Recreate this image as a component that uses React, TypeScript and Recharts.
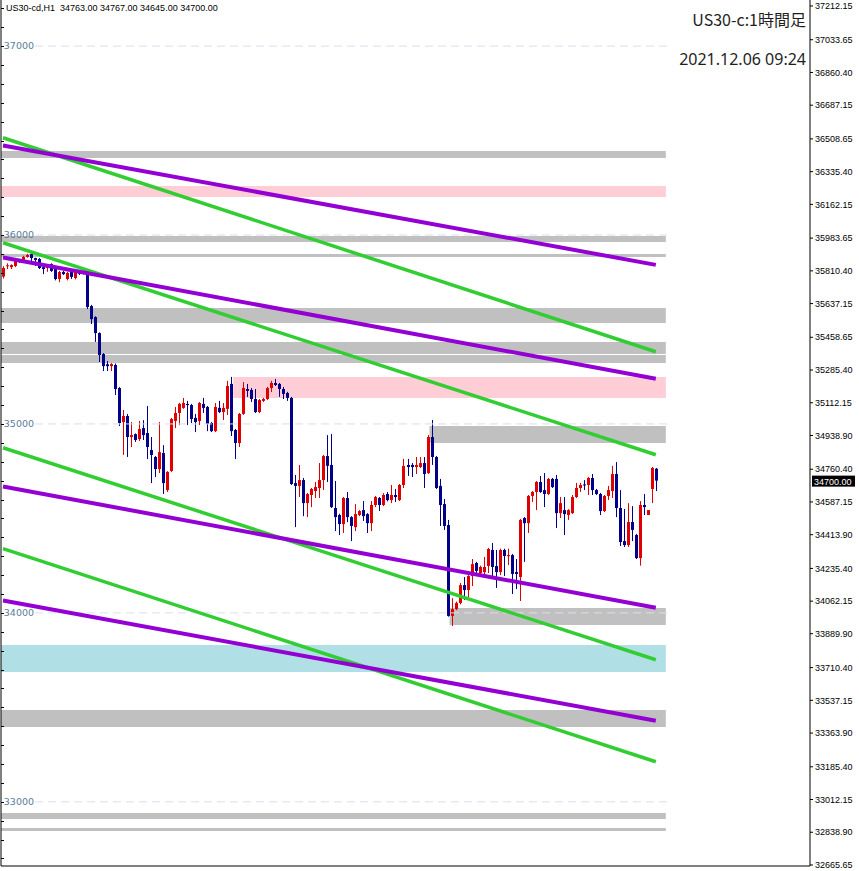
import React from 'react';
import {
  ComposedChart,
  Bar,
  XAxis,
  YAxis,
  ReferenceArea,
  ReferenceLine,
} from 'recharts';

// US30 H1 candles
const opens = [
  35780, 35835, 35830, 35836, 35857, 35862, 35884, 35899, 35878, 35873,
  35830, 35825, 35846, 35820, 35767, 35804, 35767, 35804, 35772, 35804,
  35795, 35804, 35624, 35566, 35481, 35370, 35316, 35306, 35312, 35190,
  35010, 35042, 34931, 34946, 34920, 34978, 34952, 34862, 34825, 34761,
  34846, 34650, 34751, 35016, 35058, 35085, 35106, 35100, 35032, 35016,
  35106, 35090, 35005, 34962, 35085, 35063, 35080, 35212, 34968, 34899,
  35053, 35185, 35180, 35132, 35063, 35122, 35132, 35190, 35217, 35212,
  35185, 35164, 35138, 34687, 34672, 34703, 34581, 34624, 34645, 34661,
  34703, 34830, 34783, 34555, 34518, 34470, 34608, 34507, 34454, 34518,
  34544, 34523, 34475, 34571, 34608, 34571, 34629, 34597, 34624, 34597,
  34677, 34783, 34783, 34772, 34772, 34793, 34740, 34931, 34825, 34672,
  34576, 34465, 33984, 34020, 34052, 34147, 34121, 34195, 34264, 34211,
  34216, 34248, 34333, 34248, 34216, 34333, 34300, 34306, 34216, 34190,
  34502, 34475, 34619, 34640, 34693, 34650, 34629, 34709, 34709, 34528,
  34544, 34518, 34528, 34613, 34661, 34680, 34677, 34714, 34650, 34629,
  34539, 34619, 34645, 34735, 34555, 34380, 34359, 34481, 34412, 34290,
  34571, 34518, 34656, 34763,
];
const highs = [
  35835, 35850, 35845, 35878, 35872, 35890, 35900, 35905, 35880, 35878,
  35835, 35845, 35850, 35825, 35810, 35810, 35805, 35810, 35808, 35812,
  35815, 35815, 35630, 35570, 35485, 35375, 35333, 35322, 35320, 35195,
  35074, 35053, 35010, 34950, 35016, 35020, 35095, 34931, 34830, 35010,
  34888, 34750, 35032, 35090, 35112, 35138, 35122, 35106, 35053, 35116,
  35138, 35095, 35010, 35111, 35122, 35111, 35228, 35249, 34973, 35058,
  35222, 35212, 35190, 35185, 35132, 35138, 35196, 35228, 35238, 35217,
  35196, 35170, 35143, 34730, 34783, 34714, 34635, 34661, 34693, 34793,
  34836, 34941, 34947, 34698, 34525, 34613, 34640, 34512, 34576, 34544,
  34592, 34528, 34592, 34619, 34613, 34634, 34640, 34677, 34656, 34682,
  34815, 34815, 34793, 34825, 34825, 34825, 34941, 35021, 34830, 34709,
  34603, 34492, 34078, 34060, 34158, 34190, 34200, 34285, 34270, 34250,
  34296, 34344, 34370, 34333, 34340, 34340, 34340, 34312, 34285, 34497,
  34507, 34624, 34645, 34698, 34725, 34740, 34714, 34714, 34730, 34613,
  34613, 34549, 34624, 34688, 34688, 34703, 34719, 34735, 34656, 34635,
  34624, 34672, 34778, 34798, 34650, 34550, 34581, 34565, 34418, 34592,
  34629, 34544, 34772, 34767,
];
const lows = [
  35770, 35820, 35820, 35830, 35852, 35858, 35880, 35857, 35836, 35820,
  35793, 35805, 35805, 35760, 35750, 35788, 35760, 35767, 35765, 35788,
  35790, 35608, 35529, 35434, 35328, 35280, 35280, 35280, 35153, 34989,
  34836, 34825, 34878, 34905, 34910, 34915, 34814, 34687, 34719, 34740,
  34629, 34640, 34745, 34978, 34994, 35080, 34994, 35005, 34957, 34994,
  35058, 34962, 34957, 34957, 35058, 35021, 35047, 34936, 34814, 34878,
  35048, 35143, 35116, 35058, 35058, 35116, 35127, 35169, 35201, 35143,
  35132, 35122, 34677, 34454, 34613, 34512, 34507, 34560, 34608, 34608,
  34650, 34693, 34555, 34433, 34412, 34423, 34480, 34380, 34433, 34512,
  34486, 34423, 34433, 34560, 34539, 34565, 34590, 34581, 34587, 34592,
  34661, 34725, 34719, 34735, 34767, 34661, 34735, 34783, 34656, 34460,
  34439, 33980, 33930, 34015, 34045, 34068, 34084, 34142, 34200, 34205,
  34195, 34211, 34190, 34132, 34200, 34195, 34253, 34100, 34126, 34063,
  34270, 34423, 34587, 34544, 34635, 34560, 34624, 34661, 34449, 34502,
  34412, 34492, 34523, 34608, 34640, 34650, 34624, 34624, 34624, 34518,
  34534, 34597, 34608, 34507, 34354, 34349, 34349, 34380, 34285, 34250,
  34518, 34518, 34581, 34645,
];
const closes = [
  35825, 35840, 35841, 35873, 35868, 35884, 35894, 35878, 35868, 35825,
  35820, 35841, 35810, 35767, 35804, 35793, 35799, 35778, 35804, 35795,
  35810, 35619, 35555, 35481, 35365, 35306, 35306, 35317, 35185, 35005,
  35042, 34931, 34941, 34915, 34973, 34941, 34878, 34836, 34761, 34851,
  34687, 34746, 35026, 35058, 35106, 35111, 35100, 35026, 35010, 35111,
  35085, 35000, 34962, 35090, 35063, 35085, 35201, 34962, 34899, 35053,
  35190, 35175, 35132, 35063, 35127, 35132, 35190, 35217, 35206, 35185,
  35159, 35138, 34682, 34672, 34703, 34581, 34629, 34656, 34666, 34703,
  34830, 34778, 34560, 34507, 34470, 34608, 34507, 34460, 34523, 34539,
  34512, 34475, 34571, 34613, 34571, 34624, 34597, 34624, 34613, 34677,
  34778, 34772, 34772, 34783, 34793, 34735, 34931, 34825, 34661, 34571,
  34460, 33984, 34020, 34052, 34147, 34121, 34195, 34258, 34222, 34243,
  34243, 34338, 34243, 34216, 34333, 34301, 34306, 34206, 34206, 34492,
  34475, 34619, 34640, 34693, 34640, 34629, 34709, 34666, 34528, 34581,
  34523, 34544, 34613, 34661, 34677, 34675, 34714, 34650, 34629, 34539,
  34619, 34650, 34735, 34555, 34375, 34359, 34481, 34439, 34290, 34571,
  34560, 34544, 34767, 34700,
];

// right price scale labels
const priceTicks = [
  37212.15, 37033.65, 36860.4, 36687.15, 36508.65, 36335.4, 36162.15,
  35983.65, 35810.4, 35637.15, 35458.65, 35285.4, 35112.15, 34938.9,
  34760.4, 34587.15, 34413.9, 34235.4, 34062.15, 33889.9, 33710.4,
  33537.15, 33363.9, 33185.4, 33012.15, 32838.9, 32665.65,
];
const roundLevels = [37000, 36000, 35000, 34000, 33000];

// zones: [low, high, first bar index or null for full width]
const grayZones: [number, number, number | null][] = [
  [36408, 36445, null],
  [35963, 35995, null],
  [35884, 35899, null],
  [35534, 35614, null],
  [35370, 35434, null],
  [35323, 35365, null],
  [34899, 34989, 107],
  [33936, 34026, 112],
  [33396, 33486, null],
  [32909, 32941, null],
  [32845, 32861, null],
];
const pinkZones: [number, number, number | null][] = [
  [36201, 36259, null],
  [35137, 35248, 58],
];
const blueZones: [number, number, number | null][] = [[33687, 33830, null]];

// trend lines: price at first bar, price at last bar
const purpleLines: [number, number][] = [
  [36474, 35842],
  [35881, 35239],
  [34669, 34027],
  [34066, 33429],
];
const greenLines: [number, number][] = [
  [36515, 35382],
  [35959, 34837],
  [34874, 33752],
  [34340, 33212],
];

const SLOTS = 202;
const ZONE_END = 165;
const DOMAIN: [number, number] = [32660.3, 37243.9];
const UP = '#e00000';
const DOWN = '#00008b';
const last = opens.length - 1;

const rows = Array.from({ length: SLOTS }, (_, i) =>
  i < opens.length
    ? { i, range: [lows[i], highs[i]], o: opens[i], h: highs[i], l: lows[i], c: closes[i] }
    : { i, range: null }
);

const leftTicks: number[] = [];
for (let v = 32700; v <= 37200; v += 100) leftTicks.push(v);

const Candle = (props: any) => {
  const { x, y, width, height, payload } = props;
  if (!payload || payload.o == null || x == null) return <g />;
  const { o, h, l, c } = payload;
  const top = Math.min(y, y + height);
  const span = Math.abs(height);
  const py = (v: number) => (h === l ? top : top + ((h - v) / (h - l)) * span);
  const cx = Math.round(x + width / 2);
  const color = c >= o ? UP : DOWN;
  const bTop = py(Math.max(o, c));
  const bBot = py(Math.min(o, c));
  return (
    <g>
      <line x1={cx + 0.5} x2={cx + 0.5} y1={top} y2={top + span} stroke={color} strokeWidth={1} />
      <rect x={cx - 1} y={bTop} width={3} height={Math.max(1, bBot - bTop)} fill={color} />
    </g>
  );
};

const PriceTag = (props: any) => {
  const vb = props.viewBox;
  if (!vb) return null;
  const x = vb.x + vb.width;
  return (
    <g>
      <rect x={x + 2} y={vb.y - 5} width={43} height={11} fill="#000" />
      <text x={x + 4} y={vb.y + 4} fill="#fff" fontSize={9} fontFamily="Liberation Sans">
        {closes[last].toFixed(2)}
      </text>
    </g>
  );
};

// short inward tick on the left frame edge
const LeftTick = (props: any) => {
  const { y } = props;
  if (y == null) return <g />;
  const yy = Math.round(y) + 0.5;
  return <line x1={1} x2={4} y1={yy} y2={yy} stroke="#000" strokeWidth={1} />;
};

const zoneArea = (z: [number, number, number | null], fill: string, key: string) => (
  <ReferenceArea
    key={key}
    yAxisId="r"
    x1={z[2] == null ? undefined : z[2]}
    x2={ZONE_END}
    y1={z[0]}
    y2={z[1]}
    fill={fill}
    fillOpacity={1}
    stroke="none"
    ifOverflow="visible"
  />
);

export default function App() {
  const header = `US30-cd,H1  ${opens[last].toFixed(2)} ${highs[last].toFixed(2)} ${lows[last].toFixed(2)} ${closes[last].toFixed(2)}`;
  return (
    <div style={{ position: 'absolute', left: 0, top: 0, width: 859, height: 871, background: '#fff' }}>
      <ComposedChart
        width={859}
        height={871}
        data={rows}
        margin={{ top: 0, right: 0, bottom: 4, left: 0 }}
        barCategoryGap={0}
      >
        <XAxis dataKey="i" type="category" height={1} tick={false} tickLine={false} axisLine={{ stroke: '#000' }} />
        <YAxis
          yAxisId="r"
          orientation="right"
          width={49}
          domain={DOMAIN}
          allowDataOverflow
          ticks={priceTicks}
          interval={0}
          tickSize={3}
          tickLine={{ stroke: '#000' }}
          axisLine={{ stroke: '#000' }}
          tick={{ fontSize: 9, fill: '#000', fontFamily: 'Liberation Sans' }}
          tickFormatter={(v: number) => v.toFixed(2)}
        />
        <YAxis
          yAxisId="l"
          orientation="left"
          width={1}
          domain={DOMAIN}
          allowDataOverflow
          ticks={leftTicks}
          interval={0}
          tickLine={false}
          axisLine={{ stroke: '#000' }}
          tick={<LeftTick />}
        />

        {grayZones.map((z, k) => zoneArea(z, '#c0c0c0', `g${k}`))}
        {pinkZones.map((z, k) => zoneArea(z, '#ffcdd6', `p${k}`))}
        {blueZones.map((z, k) => zoneArea(z, '#b0e0e6', `b${k}`))}

        {roundLevels.map((v) => (
          <ReferenceLine
            key={v}
            yAxisId="r"
            segment={[{ x: 8, y: v }, { x: 166, y: v }]}
            stroke="#dcdcf2"
            strokeDasharray="8 5"
            ifOverflow="visible"
            label={{ value: String(v), position: 'left', offset: 1, fill: '#5b7a99', fontSize: 9.5, fontFamily: 'DejaVu Sans' }}
          />
        ))}

        <Bar yAxisId="r" dataKey="range" shape={<Candle />} isAnimationActive={false} />

        {greenLines.map((l, k) => (
          <ReferenceLine
            key={`gl${k}`}
            yAxisId="r"
            segment={[{ x: 0, y: l[0] }, { x: last, y: l[1] }]}
            stroke="#32cd32"
            strokeWidth={3.5}
            ifOverflow="visible"
          />
        ))}
        {purpleLines.map((l, k) => (
          <ReferenceLine
            key={`pl${k}`}
            yAxisId="r"
            segment={[{ x: 0, y: l[0] }, { x: last, y: l[1] }]}
            stroke="#9400d3"
            strokeWidth={4}
            ifOverflow="visible"
          />
        ))}

        <ReferenceLine yAxisId="r" y={closes[last]} stroke="none" label={<PriceTag />} />
      </ComposedChart>

      <div
        style={{
          position: 'absolute', left: 6, top: 3, fontSize: 9, lineHeight: '11px',
          fontFamily: 'Liberation Sans', color: '#000', whiteSpace: 'pre',
        }}
      >
        {header}
      </div>
      <div
        style={{
          position: 'absolute', right: 53, top: 9, fontSize: 16, lineHeight: '20px',
          fontFamily: '"Noto Sans CJK JP", "Noto Sans"', color: '#1e1e1e', whiteSpace: 'pre',
        }}
      >
        US30-c:1時間足
      </div>
      <div
        style={{
          position: 'absolute', right: 53, top: 49, fontSize: 16, lineHeight: '20px',
          fontFamily: '"Noto Sans", "Noto Sans CJK JP"', color: '#1e1e1e', whiteSpace: 'pre',
        }}
      >
        2021.12.06 09:24
      </div>
    </div>
  );
}
